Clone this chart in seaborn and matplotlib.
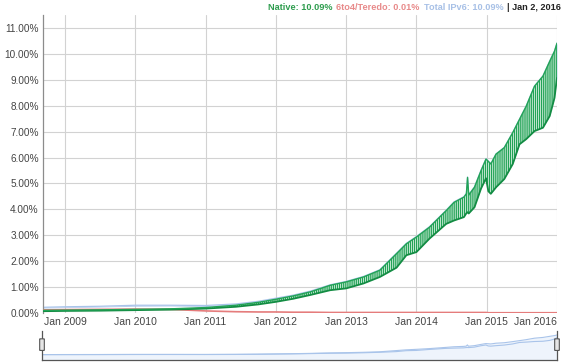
import pandas as pd
import matplotlib
matplotlib.use("Agg")
import matplotlib.pyplot as plt
from matplotlib.patches import FancyBboxPatch
import seaborn as sns

# values (percent of users reaching Google over IPv6)
dates = ["2008-09-08", "2009-01-01", "2009-07-01", "2010-01-01", "2010-07-01",
         "2011-01-01", "2011-06-08", "2011-10-01", "2012-01-01", "2012-04-01",
         "2012-07-01", "2012-10-10", "2013-01-01", "2013-04-01", "2013-06-25",
         "2013-09-20", "2013-11-10", "2014-01-01", "2014-03-10", "2014-06-05",
         "2014-07-16", "2014-09-05", "2014-09-18", "2014-09-24", "2014-09-30",
         "2014-10-30", "2014-12-03", "2014-12-29", "2015-01-10", "2015-01-23",
         "2015-02-19", "2015-04-03", "2015-05-17", "2015-06-21", "2015-07-26",
         "2015-09-07", "2015-10-21", "2015-11-25", "2015-12-20", "2016-01-02"]
native_lo = [0.07, 0.08, 0.09, 0.11, 0.13, 0.17, 0.24, 0.33, 0.43, 0.55,
             0.70, 0.88, 0.95, 1.14, 1.39, 1.75, 2.23, 2.35, 2.87, 3.44,
             3.57, 3.70, 3.85, 3.89, 3.84, 4.08, 4.80, 5.20, 4.70, 4.60,
             4.85, 5.17, 5.75, 6.51, 6.71, 7.02, 7.15, 7.60, 8.30, 9.07]
native_hi = [0.10, 0.11, 0.12, 0.14, 0.16, 0.21, 0.30, 0.41, 0.53, 0.66,
             0.82, 1.07, 1.20, 1.39, 1.65, 2.29, 2.67, 2.93, 3.31, 3.95,
             4.27, 4.47, 4.60, 5.23, 4.55, 4.85, 5.49, 5.94, 5.85, 5.75,
             6.13, 6.38, 6.96, 7.47, 7.98, 8.75, 9.14, 9.71, 10.10, 10.41]
teredo = [0.12, 0.13, 0.14, 0.15, 0.14, 0.08, 0.05, 0.04, 0.04, 0.03,
          0.03, 0.02, 0.02, 0.02, 0.02, 0.02, 0.02, 0.02, 0.02, 0.02,
          0.02, 0.02, 0.02, 0.02, 0.02, 0.02, 0.02, 0.02, 0.01, 0.01,
          0.01, 0.01, 0.01, 0.01, 0.01, 0.01, 0.01, 0.01, 0.01, 0.01]
total_lo = [0.19, 0.21, 0.23, 0.26, 0.27, 0.25, 0.29, 0.37, 0.47, 0.58,
            0.73, 0.90, 0.97, 1.16, 1.41, 1.77, 2.25, 2.37, 2.89, 3.46,
            3.59, 3.72, 3.87, 3.91, 3.86, 4.10, 4.82, 5.22, 4.71, 4.61,
            4.86, 5.18, 5.76, 6.52, 6.72, 7.03, 7.16, 7.61, 8.31, 9.08]
total_hi = [0.22, 0.24, 0.26, 0.30, 0.30, 0.29, 0.35, 0.45, 0.57, 0.69,
            0.85, 1.09, 1.22, 1.41, 1.67, 2.31, 2.69, 2.95, 3.33, 3.97,
            4.29, 4.49, 4.62, 5.25, 4.57, 4.87, 5.51, 5.96, 5.86, 5.76,
            6.14, 6.39, 6.97, 7.48, 7.99, 8.76, 9.15, 9.72, 10.11, 10.42]
year_ticks = ["2009", "2010", "2011", "2012", "2013", "2014", "2015", "2016"]
y_ticks = [0, 1, 2, 3, 4, 5, 6, 7, 8, 9, 10, 11]

df = pd.DataFrame({"date": pd.to_datetime(dates), "native_lo": native_lo,
                   "native_hi": native_hi, "teredo": teredo,
                   "total_lo": total_lo, "total_hi": total_hi})

GREEN = "#22a356"
GREEN_DARK = "#138c43"
RED = "#e57c7c"
BLUE = "#a9c4ea"

sns.set_theme(style="white")
plt.rcParams["font.family"] = ["Liberation Sans", "DejaVu Sans"]
plt.rcParams["hatch.color"] = "#159447"
plt.rcParams["hatch.linewidth"] = 0.5

fig = plt.figure(figsize=(5.65, 3.62), dpi=100)
ax = fig.add_axes([43 / 565, 1 - 313 / 362, 514 / 565, 298 / 362])

ax.fill_between(df["date"], df["total_lo"], df["total_hi"], color=BLUE,
                lw=0, alpha=0.8, zorder=2)
ax.plot(df["date"], df["total_hi"], color=BLUE, lw=0.9, zorder=2)
sns.lineplot(data=df, x="date", y="teredo", color=RED, lw=1.2, ax=ax, zorder=3)
ax.fill_between(df["date"], df["native_lo"], df["native_hi"], facecolor=GREEN,
                hatch="||||||||", lw=0, zorder=4)
sns.lineplot(data=df, x="date", y="native_lo", color=GREEN_DARK, lw=1.3, ax=ax, zorder=5)
sns.lineplot(data=df, x="date", y="native_hi", color=GREEN, lw=1.0, ax=ax, zorder=5)

ax.set_xlim(pd.Timestamp("2008-09-08"), pd.Timestamp("2016-01-02"))
ax.set_ylim(0, 11.5)
ax.set_yticks(y_ticks)
ax.set_yticklabels([f"{v:.2f}%" for v in y_ticks])
xt = [pd.Timestamp(f"{y}-01-01") for y in year_ticks]
ax.set_xticks(xt)
ax.set_xticklabels([f"Jan {y}" for y in year_ticks])
ax.get_xticklabels()[-1].set_ha("right")
ax.grid(True, color="#d2d2d2", lw=0.8)
ax.set_axisbelow(True)
ax.tick_params(axis="both", length=0, colors="#444444")
ax.tick_params(axis="x", labelsize=7.5, pad=3)
ax.tick_params(axis="y", labelsize=7.2, pad=3)
ax.set_xlabel("")
ax.set_ylabel("")
for s in ["top", "right", "bottom"]:
    ax.spines[s].set_visible(False)
ax.spines["left"].set_color("#8c8c8c")
ax.spines["left"].set_linewidth(0.9)

# range navigator below the chart
nav = fig.add_axes([42 / 565, 2 / 362, 515 / 565, 29 / 362])
nav.fill_between(df["date"], -2.6, df["total_hi"], color="#eef4fc", lw=0)
nav.plot(df["date"], df["total_hi"], color=BLUE, lw=0.8)
nav.plot(df["date"], df["total_lo"], color=BLUE, lw=0.8)
nav.set_xlim(pd.Timestamp("2008-09-08"), pd.Timestamp("2016-01-02"))
nav.set_ylim(-2.6, 12.5)
nav.set_xticks([])
nav.set_yticks([])
nav.spines["top"].set_visible(False)
for s in ["left", "right", "bottom"]:
    nav.spines[s].set_color("#555555")
    nav.spines[s].set_linewidth(0.9)
for xpos in [0, 1]:
    nav.add_patch(FancyBboxPatch((xpos - 0.0045, 0.33), 0.009, 0.4,
                                 boxstyle="round,pad=0,rounding_size=0.003",
                                 transform=nav.transAxes, clip_on=False,
                                 facecolor="#e6e6e6", edgecolor="#555555",
                                 lw=0.8, zorder=10))

# header with current values, laid out right to left
pieces = [("Native: 10.09%", "#2e9d4e"), ("6to4/Teredo: 0.01%", "#e88a8a"),
          ("Total IPv6: 10.09%", "#a7c0e6"), ("| Jan 2, 2016", "#222222")]
renderer = fig.canvas.get_renderer()
xpix = 561
for txt, col in reversed(pieces):
    t = fig.text(xpix / 565, 1 - 7 / 362, txt, color=col, fontsize=6.6,
                 fontweight="bold", va="center", ha="right")
    bb = t.get_window_extent(renderer=renderer)
    xpix = bb.x0 - 4

fig.savefig("out.png", dpi=100)
